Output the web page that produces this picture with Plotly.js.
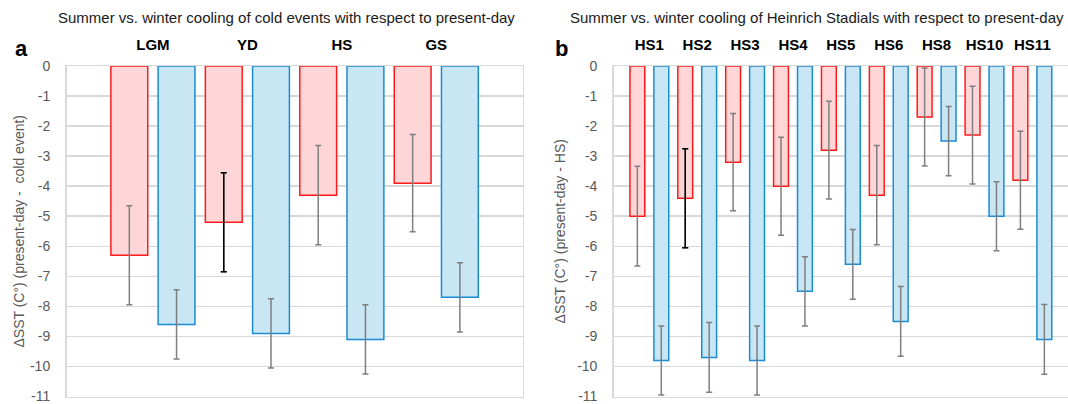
<!DOCTYPE html>
<html>
<head>
<meta charset="utf-8">
<script src="https://cdn.plot.ly/plotly-3.0.1.min.js"></script>
<style>html,body{margin:0;padding:0;background:#fff;}#chart{width:1068px;height:404px;}</style>
</head>
<body>
<div id="chart"></div>
<script>
// ---- Data ----
const leftCategories = ['LGM', 'YD', 'HS', 'GS'];
const leftSummer = [-6.3, -5.2, -4.3, -3.9];
const leftWinter = [-8.6, -8.9, -9.1, -7.7];
const leftSummerErr = [1.65, 1.65, 1.65, 1.62];
const leftWinterErr = [1.15, 1.15, 1.15, 1.15];
const leftSummerErrBlack = [false, true, false, false];

const rightCategories = ['HS1', 'HS2', 'HS3', 'HS4', 'HS5', 'HS6', 'HS8', 'HS10', 'HS11'];
const rightSummer = [-5.0, -4.4, -3.2, -4.0, -2.8, -4.3, -1.7, -2.3, -3.8];
const rightWinter = [-9.8, -9.7, -9.8, -7.5, -6.6, -8.5, -2.5, -5.0, -9.1];
const rightSummerErr = [1.66, 1.65, 1.62, 1.63, 1.63, 1.65, 1.63, 1.63, 1.63];
const rightWinterErr = [1.15, 1.16, 1.15, 1.15, 1.16, 1.16, 1.15, 1.15, 1.16];
const rightSummerErrBlack = [false, true, false, false, false, false, false, false, false];

const yTickVals = [0, -1, -2, -3, -4, -5, -6, -7, -8, -9, -10, -11];
const yTickText = ['0', '-1', '-2', '-3', '-4', '-5', '-6', '-7', '-8', '-9', '-10', '-11'];

const leftTitle = 'Summer vs. winter cooling of cold events with respect to present-day';
const rightTitle = 'Summer vs. winter cooling of Heinrich Stadials with respect to present-day';
const leftYTitle = '\u0394SST (C\u00b0) (present-day -  cold event)';
const rightYTitle = '\u0394SST (C\u00b0) (present-day - HS)';

// ---- Styles ----
const FONT = 'Liberation Sans, Arial, sans-serif';
const RED_FILL = '#FFD6D7';
const RED_LINE = '#FF1A1A';
const BLUE_FILL = '#C8E6F4';
const BLUE_LINE = '#1A8CD5';
const ERR_GRAY = '#7F7F7F';
const GRID = '#D9D9D9';

function makeTraces(cats, summer, winter, sErr, wErr, black, xa, ya, w) {
  const half = 0.25;
  const common = {type: 'bar', x: cats, xaxis: xa, yaxis: ya, width: w, hoverinfo: 'skip', showlegend: false};
  const red = Object.assign({}, common, {
    y: summer, offset: -half - w / 2,
    marker: {color: RED_FILL, line: {color: RED_LINE, width: 1.5}},
    error_y: {type: 'data', array: sErr, visible: true, color: ERR_GRAY, thickness: 1.5, width: 3}
  });
  const blue = Object.assign({}, common, {
    y: winter, offset: half - w / 2,
    marker: {color: BLUE_FILL, line: {color: BLUE_LINE, width: 1.5}},
    error_y: {type: 'data', array: wErr, visible: true, color: ERR_GRAY, thickness: 1.5, width: 3}
  });
  const blk = Object.assign({}, common, {
    y: summer.map((v, i) => black[i] ? v : null), offset: -half - w / 2,
    marker: {color: 'rgba(0,0,0,0)', line: {width: 0}},
    error_y: {type: 'data', array: sErr, visible: true, color: '#000000', thickness: 1.5, width: 3}
  });
  return [red, blue, blk];
}

const traces = [].concat(
  makeTraces(leftCategories, leftSummer, leftWinter, leftSummerErr, leftWinterErr, leftSummerErrBlack, 'x', 'y', 0.39),
  makeTraces(rightCategories, rightSummer, rightWinter, rightSummerErr, rightWinterErr, rightSummerErrBlack, 'x2', 'y2', 0.31)
);

const W = 1068, H = 404;
const px = v => v / W;
const py = v => 1 - v / H;
const yDom = [py(396.5), py(66)];

function xAxis(domain, range) {
  return {
    domain: domain, type: 'category', range: range, side: 'top',
    showline: true, linecolor: GRID, linewidth: 1.5, mirror: true,
    showgrid: false, zeroline: false, ticks: '', ticklabelstandoff: 9,
    tickfont: {family: FONT, size: 15, color: '#000000', weight: 'bold'},
    fixedrange: true
  };
}
function yAxis(anchor, title, mirror, standoff) {
  return {
    domain: yDom, anchor: anchor, range: [-11, 0],
    tickmode: 'array', tickvals: yTickVals, ticktext: yTickText,
    showgrid: true, gridcolor: GRID, gridwidth: 1.5, zeroline: false,
    showline: true, linecolor: GRID, linewidth: 1.5, mirror: mirror,
    ticks: '', ticklabelstandoff: 12, ticklabeloverflow: 'allow',
    tickfont: {family: FONT, size: 14, color: '#595959'},
    title: {text: title, font: {family: FONT, size: 14, color: '#595959'}, standoff: standoff},
    fixedrange: true
  };
}

const layout = {
  width: W, height: H,
  margin: {l: 0, r: 0, t: 0, b: 0, pad: 0},
  paper_bgcolor: '#ffffff', plot_bgcolor: '#ffffff',
  barmode: 'overlay',
  showlegend: false,
  font: {family: FONT},
  xaxis: Object.assign(xAxis([px(66.5), px(522.7)], [-0.915, 3.915]), {anchor: 'y'}),
  yaxis: yAxis('x', leftYTitle, true, 2),
  xaxis2: Object.assign(xAxis([px(613.7), 1], [-0.744, 8.744]), {anchor: 'y2'}),
  yaxis2: yAxis('x2', rightYTitle, false, 8),
  annotations: [
    {text: leftTitle, xref: 'paper', yref: 'paper', x: px(286), y: py(17), xanchor: 'center', yanchor: 'middle', showarrow: false, font: {family: FONT, size: 15, color: '#1a1a1a'}},
    {text: rightTitle, xref: 'paper', yref: 'paper', x: px(816.5), y: py(17), xanchor: 'center', yanchor: 'middle', showarrow: false, font: {family: FONT, size: 15, color: '#1a1a1a'}},
    {text: '<b>a</b>', xref: 'paper', yref: 'paper', x: px(21.5), y: py(48), xanchor: 'center', yanchor: 'middle', showarrow: false, font: {family: FONT, size: 22, color: '#000000'}},
    {text: '<b>b</b>', xref: 'paper', yref: 'paper', x: px(561.5), y: py(48), xanchor: 'center', yanchor: 'middle', showarrow: false, font: {family: FONT, size: 22, color: '#000000'}}
  ]
};

Plotly.newPlot('chart', traces, layout, {displayModeBar: false, staticPlot: true});
</script>
</body>
</html>
